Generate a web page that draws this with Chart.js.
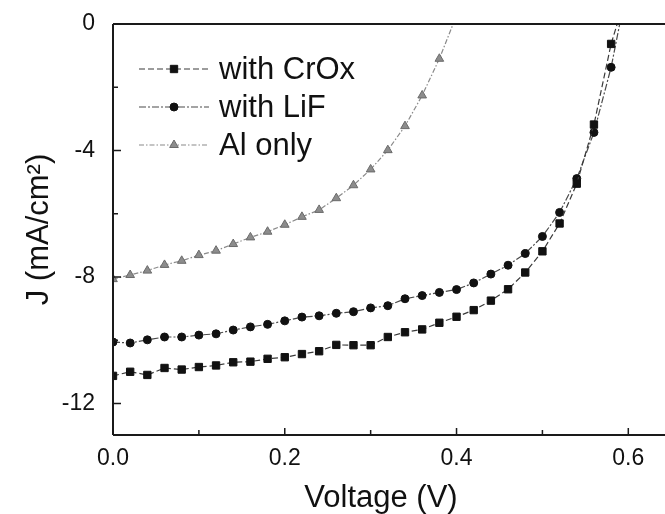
<!DOCTYPE html>
<html>
<head>
<meta charset="utf-8">
<title>J-V curves</title>
<script src="https://cdn.jsdelivr.net/npm/chart.js@4.4.1/dist/chart.umd.min.js"></script>
<style>
  html, body { margin: 0; padding: 0; background: #fff; overflow: hidden; }
  #wrap { width: 665px; height: 514px; position: relative; }
</style>
</head>
<body>
<div id="wrap"><canvas id="jvChart"></canvas></div>
<script>
// bias voltage (V), one sample every 20 mV
const voltage = [0.00, 0.02, 0.04, 0.06, 0.08, 0.10, 0.12, 0.14, 0.16, 0.18,
                 0.20, 0.22, 0.24, 0.26, 0.28, 0.30, 0.32, 0.34, 0.36, 0.38,
                 0.40, 0.42, 0.44, 0.46, 0.48, 0.50, 0.52, 0.54, 0.56, 0.58];

// current density (mA/cm2)
const jCrOx = [-11.13, -11.00, -11.10, -10.88, -10.93, -10.85, -10.80, -10.70, -10.68, -10.59,
               -10.54, -10.44, -10.35, -10.15, -10.16, -10.16, -9.90, -9.75, -9.66, -9.45,
               -9.26, -9.05, -8.75, -8.39, -7.86, -7.19, -6.31, -5.05, -3.18, -0.63];
const jLiF = [-10.06, -10.09, -9.99, -9.90, -9.90, -9.84, -9.80, -9.68, -9.58, -9.50,
              -9.39, -9.27, -9.23, -9.15, -9.10, -8.98, -8.91, -8.69, -8.59, -8.49,
              -8.40, -8.19, -7.91, -7.63, -7.26, -6.72, -5.96, -4.89, -3.43, -1.37];
const jAl = [-8.07, -7.94, -7.80, -7.62, -7.49, -7.31, -7.17, -6.96, -6.75, -6.57,
             -6.35, -6.10, -5.88, -5.51, -5.10, -4.60, -3.99, -3.23, -2.26, -1.10];

// open-circuit voltage: where each curve reaches J = 0
const vocCrOx = 0.587;
const vocLiF = 0.590;
const vocAl = 0.396;

const seriesNames = ['with CrOx', 'with LiF', 'Al only'];

const xTicks = [0, 0.2, 0.4, 0.6];
const xMinor = [0.1, 0.3, 0.5];
const yTicks = [0, -4, -8, -12];
const yMinor = [-2, -6, -10];

const FONT = "'Liberation Sans', Arial, Helvetica, sans-serif";

function curve(js, voc) {
    const pts = js.map((j, i) => ({ x: voltage[i], y: j }));
    pts.push({ x: voc, y: 0 });
    return pts;
}

function radii(js, r) {
    return js.map(() => r).concat(0);
}

// draws one marker in the style of a dataset
function marker(ctx, ds, x, y) {
    const r = ds.pointRadius[0];
    ctx.save();
    ctx.fillStyle = ds.pointBackgroundColor;
    ctx.strokeStyle = ds.pointBorderColor;
    ctx.lineWidth = ds.pointBorderWidth;
    ctx.setLineDash([]);
    ctx.beginPath();
    if (ds.pointStyle === 'rect') {
        const s = r * Math.SQRT1_2;
        ctx.rect(x - s, y - s, 2 * s, 2 * s);
    } else if (ds.pointStyle === 'triangle') {
        for (let k = 0; k < 3; k++) {
            const a = k * 2 * Math.PI / 3;
            const px = x + Math.sin(a) * r, py = y - Math.cos(a) * r;
            k ? ctx.lineTo(px, py) : ctx.moveTo(px, py);
        }
        ctx.closePath();
    } else {
        ctx.arc(x, y, r, 0, Math.PI * 2);
    }
    ctx.fill();
    ctx.stroke();
    ctx.restore();
}

// box, inward tick marks and the line + marker legend
const framePlugin = {
    id: 'frame',
    afterDatasetsDraw(chart) {
        const { ctx, chartArea: a, scales } = chart;
        const W = chart.width;
        ctx.save();
        ctx.strokeStyle = '#1a1a1a';
        ctx.lineWidth = 2;
        ctx.setLineDash([]);
        ctx.beginPath();
        ctx.moveTo(a.left, a.top); ctx.lineTo(W, a.top);
        ctx.moveTo(a.left, a.top); ctx.lineTo(a.left, a.bottom);
        ctx.moveTo(a.left, a.bottom); ctx.lineTo(W, a.bottom);
        ctx.stroke();

        ctx.lineWidth = 1.5;
        ctx.beginPath();
        xTicks.concat(xMinor).forEach(v => {
            const px = scales.x.getPixelForValue(v);
            const len = xTicks.includes(v) ? 7 : 5;
            ctx.moveTo(px, a.bottom); ctx.lineTo(px, a.bottom - len);
        });
        yTicks.concat(yMinor).forEach(v => {
            const py = scales.y.getPixelForValue(v);
            const len = yTicks.includes(v) ? 8 : 5;
            ctx.moveTo(a.left, py); ctx.lineTo(a.left + len, py);
        });
        ctx.stroke();

        // legend
        const lx0 = a.left + 26, lx1 = a.left + 96, mx = a.left + 61, tx = a.left + 106;
        chart.data.datasets.forEach((ds, i) => {
            const y = a.top + 45 + i * 38;
            ctx.strokeStyle = ds.borderColor;
            ctx.lineWidth = ds.borderWidth;
            ctx.setLineDash(ds.borderDash);
            ctx.beginPath();
            ctx.moveTo(lx0, y); ctx.lineTo(lx1, y);
            ctx.stroke();
            marker(ctx, ds, mx, y);
            ctx.fillStyle = '#111';
            ctx.font = '31px ' + FONT;
            ctx.textBaseline = 'middle';
            ctx.textAlign = 'left';
            ctx.fillText(ds.label, tx, y + 1);
        });
        ctx.restore();
    }
};

new Chart(document.getElementById('jvChart'), {
    type: 'line',
    data: {
        datasets: [{
            label: seriesNames[0],
            data: curve(jCrOx, vocCrOx),
            borderColor: '#3a3a3a',
            borderWidth: 1.2,
            borderDash: [6, 3],
            pointStyle: 'rect',
            pointRadius: radii(jCrOx, 5.2),
            pointBackgroundColor: '#111',
            pointBorderColor: '#111',
            pointBorderWidth: 1,
            clip: 0
        }, {
            label: seriesNames[1],
            data: curve(jLiF, vocLiF),
            borderColor: '#4a4a4a',
            borderWidth: 1.2,
            borderDash: [7, 2, 2, 2],
            pointStyle: 'circle',
            pointRadius: radii(jLiF, 4),
            pointBackgroundColor: '#111',
            pointBorderColor: '#111',
            pointBorderWidth: 1,
            clip: 0
        }, {
            label: seriesNames[2],
            data: curve(jAl, vocAl),
            borderColor: '#8a8a8a',
            borderWidth: 1.2,
            borderDash: [5, 2, 1.5, 2],
            pointStyle: 'triangle',
            pointRadius: radii(jAl, 5),
            pointBackgroundColor: '#8c8c8c',
            pointBorderColor: '#6a6a6a',
            pointBorderWidth: 1,
            clip: 0
        }]
    },
    options: {
        responsive: true,
        maintainAspectRatio: false,
        animation: false,
        devicePixelRatio: 1,
        layout: { padding: { top: 24, right: 16, left: 0, bottom: 0 } },
        plugins: {
            legend: { display: false },
            tooltip: { enabled: false }
        },
        elements: { line: { tension: 0 } },
        scales: {
            x: {
                type: 'linear',
                min: 0,
                max: 0.6241,
                grid: { display: false, drawTicks: false },
                border: { display: false },
                afterBuildTicks: s => { s.ticks = xTicks.map(v => ({ value: v })); },
                afterFit: s => { s.height = 79; s.paddingLeft = 0; s.paddingRight = 0; },
                ticks: {
                    padding: 10,
                    color: '#111',
                    font: { family: FONT, size: 23 },
                    maxRotation: 0,
                    callback: v => Number(v).toFixed(1)
                },
                title: {
                    display: true,
                    text: 'Voltage (V)',
                    color: '#111',
                    font: { family: FONT, size: 31, lineHeight: 1 },
                    padding: { top: 0, bottom: 0 }
                }
            },
            y: {
                type: 'linear',
                min: -13,
                max: 0,
                grid: { display: false, drawTicks: false },
                border: { display: false },
                afterBuildTicks: s => { s.ticks = yTicks.map(v => ({ value: v })); },
                afterFit: s => { s.width = 113; s.paddingTop = 0; s.paddingBottom = 0; },
                ticks: {
                    padding: 18,
                    color: '#111',
                    font: { family: FONT, size: 23 },
                    callback: v => String(v)
                },
                title: {
                    display: true,
                    text: 'J (mA/cm²)',
                    color: '#111',
                    font: { family: FONT, size: 31, lineHeight: 1 },
                    padding: { top: 24, bottom: 0 }
                }
            }
        }
    },
    plugins: [framePlugin]
});
</script>
</body>
</html>
